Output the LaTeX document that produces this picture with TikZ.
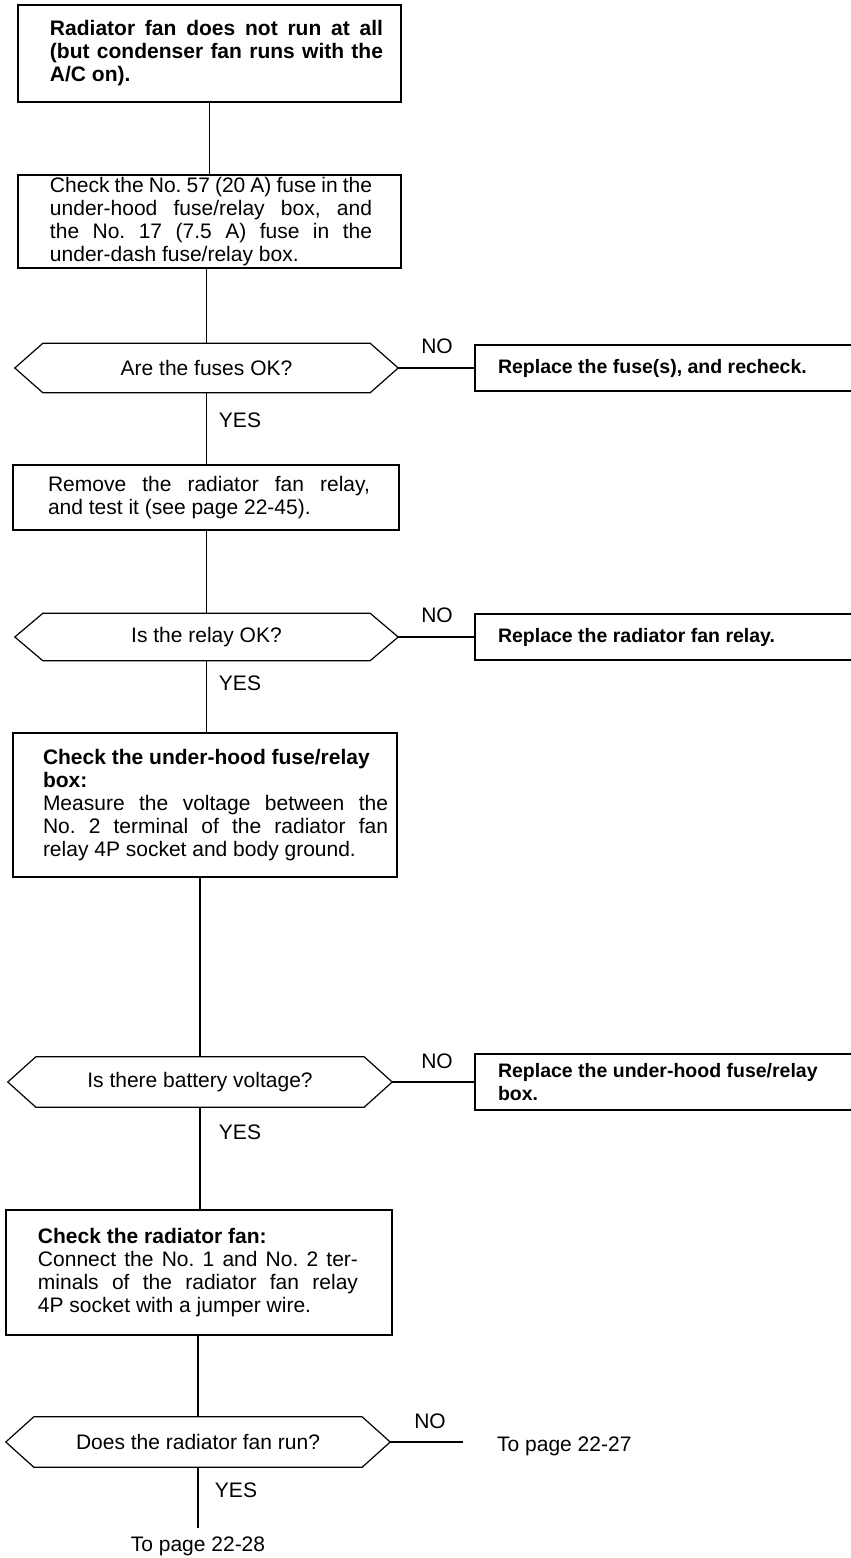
\documentclass[tikz,border=0pt]{standalone}
\usepackage{fontspec}
\setmainfont{Liberation Sans}
\newcommand\hexoutline[2]{%
  \draw[conn] (#1.west) -- ([xshift=#2]#1.north west) -- ([xshift=-#2]#1.north east)
    -- (#1.east) -- ([xshift=-#2]#1.south east) -- ([xshift=#2]#1.south west) -- cycle;}
% left margin, right margin, text (\linebreak = justified line, \\ = natural line)
\newcommand\boxpara[3]{\parindent=0pt\leftskip=#1pt\relax\rightskip=#2pt\relax
  \spaceskip=0pt\relax\xspaceskip=0pt\relax
  \parfillskip=0pt plus 1fil\relax\tolerance=10000\hbadness=10000\hfuzz=20pt
  \frenchspacing\noindent #3\par}
\tikzset{
  every node/.style={font=\fontsize{21}{23}\selectfont, inner sep=0pt},
  conn/.style={line width=1.2pt},
  box/.style={draw, line width=1.2pt, inner sep=0pt},
  hexnode/.style={align=center},
  nobox/.style={draw, line width=1.2pt, inner sep=0pt, text width=380pt,
    minimum height=46pt, font=\fontsize{19.5}{23}\selectfont\bfseries},
  lab/.style={},
}
\begin{document}
\begin{tikzpicture}[x=1pt,y=-1pt]
\fill[white] (0,0) rectangle (851,1558);
\useasboundingbox (0,0) rectangle (851,1558);

% main boxes
\node[box, text width=383pt, minimum height=97pt] (b1) at (209.5,53.5)
  {\boxpara{32}{18}{\bfseries Radiator fan does not run at all\linebreak
   (but condenser fan runs with the\linebreak A/C on).}};
\node[box, text width=383pt, minimum height=93pt] (b2) at (209.5,221.5)
  {\boxpara{32}{29}{Check the No. 57 (20 A) fuse in the\linebreak
   under-hood fuse/relay box, and\linebreak
   the No. 17 (7.5 A) fuse in the\linebreak under-dash fuse/relay box.}};
\node[box, text width=386pt, minimum height=65pt] (b3) at (206,497.5)
  {\boxpara{35}{29}{Remove the radiator fan relay,\linebreak
   and test it (see page 22-45).}};
\node[box, text width=384pt, minimum height=144pt] (b4) at (205,805)
  {\boxpara{30}{9}{\textbf{Check the under-hood fuse/relay}\\
   \textbf{box:}\\
   Measure the voltage between the\linebreak
   No. 2 terminal of the radiator fan\linebreak
   relay 4P socket and body ground.}};
\node[box, text width=386pt, minimum height=125pt] (b5) at (199,1272.5)
  {\boxpara{32}{34}{\textbf{Check the radiator fan:}\\
   Connect the No. 1 and No. 2 ter-\linebreak
   minals of the radiator fan relay\linebreak
   4P socket with a jumper wire.}};

% decisions
\node[hexnode, minimum width=383pt, minimum height=49pt] (h1) at (206.5,368) {Are the fuses OK?};
\node[hexnode, minimum width=383pt, minimum height=47pt] (h2) at (206.5,637) {Is the relay OK?};
\node[hexnode, minimum width=384pt, minimum height=50pt] (h3) at (200,1082) {Is there battery voltage?};
\node[hexnode, minimum width=384pt, minimum height=50pt] (h4) at (198,1442) {Does the radiator fan run?};
\hexoutline{h1}{28pt}
\hexoutline{h2}{28pt}
\hexoutline{h3}{28pt}
\hexoutline{h4}{28pt}

% NO boxes (right edge runs off the page)
\node[nobox] (n1) at (665,368) {\boxpara{23}{0}{Replace the fuse(s), and recheck.}};
\node[nobox] (n2) at (665,637) {\boxpara{23}{0}{Replace the radiator fan relay.}};
\node[nobox, minimum height=56pt] (n3) at (665,1082)
  {\boxpara{23}{0}{Replace the under-hood fuse/relay\\box.}};

% labels
\node[lab] (no1) at (437,346) {NO};
\node[lab] (no2) at (437,615) {NO};
\node[lab] (no3) at (437,1061) {NO};
\node[lab] (no4) at (430,1421) {NO};
\node[lab] (yes1) at (240,420) {YES};
\node[lab] (yes2) at (240,683) {YES};
\node[lab] (yes3) at (240,1132) {YES};
\node[lab] (yes4) at (236,1490) {YES};
\node[lab, anchor=west] (p27) at (497,1446) {To page 22-27};
\node[lab] (p28) at (198,1546) {To page 22-28};
\coordinate (e27) at (463,1442);
\coordinate (e28) at (198,1528);

% connectors
\draw[conn] (b1) -- (b2);
\draw[conn] (b2.south -| h1.north) -- (h1.north);
\draw[conn] (h1.east) -- (n1.west);
\draw[conn] (h1.south) -- (h1.south |- b3.north);
\draw[conn] (b3.south -| h2.north) -- (h2.north);
\draw[conn] (h2.east) -- (n2.west);
\draw[conn] (h2.south) -- (h2.south |- b4.north);
\draw[conn] (b4.south -| h3.north) -- (h3.north);
\draw[conn] (h3.east) -- (n3.west);
\draw[conn] (h3.south) -- (h3.south |- b5.north);
\draw[conn] (b5.south -| h4.north) -- (h4.north);
\draw[conn] (h4.east) -- (e27);
\draw[conn] (h4.south) -- (e28);
\end{tikzpicture}
\end{document}
